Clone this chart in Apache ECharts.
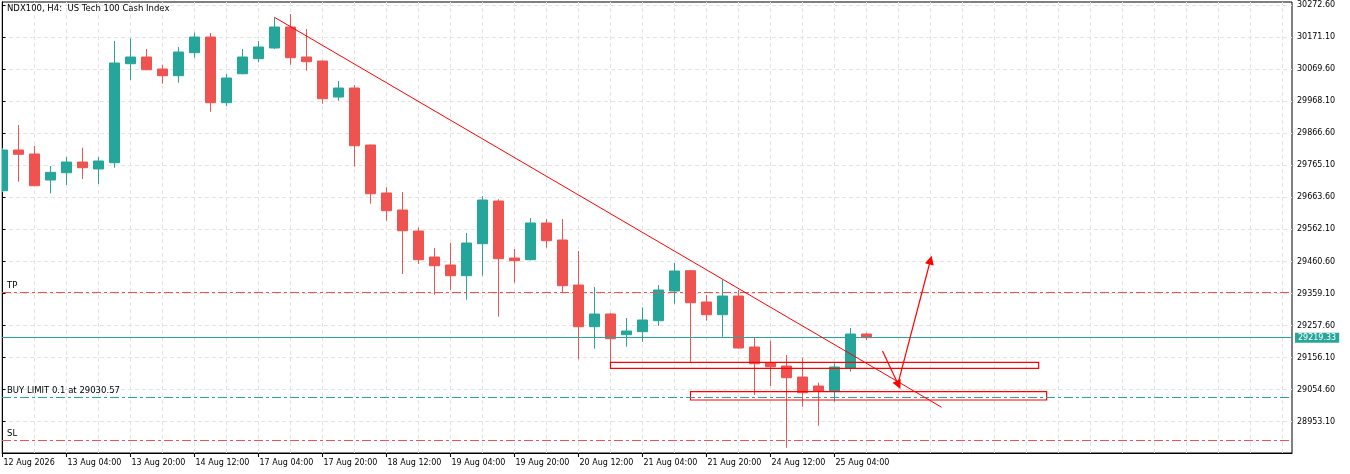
<!DOCTYPE html>
<html><head><meta charset="utf-8">
<script src="https://cdn.jsdelivr.net/npm/echarts@6/dist/echarts.min.js"></script>
<style>html,body{margin:0;padding:0;background:#fff}#c{width:1350px;height:474px}</style>
</head><body><div id="c"></div>
<script>
// ---- data (H4 candles, index 0 = 12 Aug 12:00) ----
const opens = [29684.5, 29813.4, 29800.8, 29718.4, 29741.5, 29775.4, 29753.3, 29773.2, 30086.7, 30107.9,
  30069.9, 30048.7, 30121.5, 30171.2, 29963.2, 30055.0, 30102.5, 30136.4, 30202.9, 30107.9,
  30095.2, 29981.2, 30009.7, 29829.2, 29677.3, 29623.4, 29556.9, 29474.6, 29449.3, 29415.4,
  29516.7, 29651.9, 29471.4, 29466.1, 29582.3, 29528.4, 29385.9, 29253.9, 29294.1, 29228.6,
  29238.1, 29272.9, 29366.9, 29431.2, 29332.1, 29291.9, 29351.1, 29189.6, 29138.9, 29129.4,
  29094.6, 29066.1, 29049.3, 29123.1, 29230.8];
const closes = [29813.4, 29799.8, 29700.4, 29742.8, 29775.4, 29757.4, 29778.6, 30088.9, 30107.9, 30067.7,
  30048.7, 30123.7, 30171.2, 29963.2, 30041.4, 30107.9, 30139.6, 30202.9, 30105.7, 30093.0,
  29975.9, 30009.7, 29827.0, 29675.0, 29621.2, 29557.9, 29466.1, 29447.0, 29415.4, 29518.9,
  29655.1, 29469.2, 29462.9, 29582.3, 29526.2, 29383.7, 29253.9, 29294.1, 29215.9, 29240.3,
  29275.1, 29370.1, 29430.3, 29329.9, 29291.9, 29351.1, 29186.5, 29136.7, 29127.2, 29092.4,
  29044.9, 29049.3, 29126.3, 29230.8, 29219.33];
const lows = [29680.4, 29713.0, 29699.4, 29676.3, 29702.6, 29721.6, 29705.8, 29757.4, 30035.1, 30066.0,
  30023.4, 30026.5, 30105.7, 29934.7, 29952.7, 30053.0, 30091.1, 30133.2, 30083.5, 30064.5,
  29960.0, 29969.5, 29760.5, 29643.4, 29589.5, 29420.8, 29452.4, 29355.2, 29370.1, 29339.4,
  29415.4, 29285.6, 29393.2, 29464.0, 29504.0, 29362.8, 29150.7, 29184.2, 29119.9, 29190.6,
  29206.4, 29256.1, 29326.7, 29139.9, 29272.9, 29222.2, 29184.2, 29037.6, 29066.1, 28870.7,
  29000.6, 28940.4, 29016.4, 29111.4, 29211.8];
const highs = [29819.8, 29892.6, 29826.1, 29762.8, 29791.3, 29820.7, 29791.3, 30158.6, 30167.1, 30133.2,
  30082.6, 30139.6, 30184.9, 30183.9, 30054.1, 30133.2, 30158.6, 30233.6, 30244.1, 30196.6,
  30097.0, 30031.9, 30018.3, 29830.5, 29695.3, 29680.4, 29568.6, 29503.1, 29518.9, 29550.6,
  29667.8, 29657.3, 29499.9, 29598.1, 29594.9, 29594.9, 29493.6, 29379.6, 29297.3, 29281.4,
  29315.3, 29385.9, 29455.6, 29433.4, 29354.3, 29401.8, 29370.1, 29219.1, 29209.6, 29164.3,
  29155.7, 29076.6, 29138.0, 29249.8, 29234.9];

const xTickLabels = ['12 Aug 2026','13 Aug 04:00','13 Aug 20:00','14 Aug 12:00','17 Aug 04:00','17 Aug 20:00',
  '18 Aug 12:00','19 Aug 04:00','19 Aug 20:00','20 Aug 12:00','21 Aug 04:00','21 Aug 20:00','24 Aug 12:00','25 Aug 04:00'];
const xTickStep = 4;
const yTickLabels = ['28953.10','29054.60','29156.10','29257.60','29359.10','29460.60','29562.10',
  '29663.60','29765.10','29866.60','29968.10','30069.60','30171.10','30272.60'];

const lastPrice = 29219.33;
const tpPrice = 29362.2;
const slPrice = 28894.2;
const buyLimitPrice = 29030.57;
const trendLine = [[17, 30233.6], [58.7, 28998.7]];
const arrow1 = [[55, 29177.0], [56, 29069.3]];
const arrow2 = [[56, 29079.8], [58, 29465.1]];
const zone1 = [[38, 29141.2], [64.76, 29122.2]];
const zone2 = [[43, 29048.4], [65.26, 29021.8]];

// ---- build ----
const candles = opens.map((o, i) => [i, o, closes[i], lows[i], highs[i]]);
const xTickIdx = xTickLabels.map((_, i) => i * xTickStep);
const yTickVals = yTickLabels.map(Number);
const xMin = -0.03125, xMax = 80.59375;
const yMin = 28854.0, yMax = 30282.1;
const gridX = [];
for (let v = 0; v <= 80; v += 2) gridX.push({ xAxis: v });
const gridY = yTickVals.map(v => ({ yAxis: v }));

const RED = '#ef5350', GREEN = '#26a69a', LINE_RED = '#ff0000';
const FONT = 'DejaVu Sans';
const dashDot = [9, 3, 3, 3];

const chart = echarts.init(document.getElementById('c'), null, { renderer: 'canvas' });
chart.setOption({
  animation: false,
  backgroundColor: '#fff',
  title: {
    text: 'NDX100, H4:  US Tech 100 Cash Index',
    left: 7, top: 4, padding: 0,
    textStyle: { fontFamily: FONT, fontSize: 8.5, fontWeight: 'normal', color: '#000' }
  },
  graphic: [
    { type: 'rect', left: 0, top: 0, z: 100, silent: true,
      shape: { width: 1.5, height: 474 }, style: { fill: '#fff' } }
  ],
  grid: {
    left: 2, top: 2, right: 58, bottom: 21,
    show: true, borderColor: '#000', borderWidth: 1, backgroundColor: '#fff',
    outerBoundsMode: 'none'
  },
  xAxis: {
    type: 'value', min: xMin, max: xMax,
    axisLine: { show: true, lineStyle: { color: '#000' } },
    axisTick: { show: true, length: 4, customValues: xTickIdx, lineStyle: { color: '#000' } },
    axisLabel: {
      customValues: xTickIdx, align: 'left', margin: 5.5, padding: [0, 0, 0, 1],
      fontFamily: FONT, fontSize: 8, color: '#000',
      formatter: v => { const k = Math.round(v / xTickStep); return xTickLabels[k] || ''; }
    },
    splitLine: { show: false }
  },
  yAxis: {
    type: 'value', position: 'right', min: yMin, max: yMax, scale: true,
    axisLine: { show: true, lineStyle: { color: '#000' } },
    axisTick: { show: true, length: 3, customValues: yTickVals, lineStyle: { color: '#000' } },
    axisLabel: {
      customValues: yTickVals, margin: 5,
      fontFamily: FONT, fontSize: 8, color: '#000',
      formatter: v => Number(v).toFixed(2)
    },
    splitLine: { show: false }
  },
  series: [
    {
      type: 'line', data: [], z: 0, silent: true,
      markLine: {
        z: 0, silent: true, symbol: ['none', 'none'], animation: false,
        label: { show: false },
        lineStyle: { color: '#e4e4e4', type: [4, 3], width: 1 },
        emphasis: { disabled: true },
        data: gridX.concat(gridY)
      }
    },
    {
      type: 'candlestick', z: 2, clip: true,
      encode: { x: 0, y: [1, 2, 3, 4] },
      barWidth: 10,
      itemStyle: { color: GREEN, color0: RED, borderColor: GREEN, borderColor0: RED, borderWidth: 1 },
      data: candles,
      markArea: {
        z: 5, silent: true,
        itemStyle: { color: 'rgba(0,0,0,0)', borderColor: LINE_RED, borderWidth: 1.2 },
        data: [
          [{ coord: zone1[0] }, { coord: zone1[1] }],
          [{ coord: zone2[0] }, { coord: zone2[1] }]
        ]
      },
      markLine: {
        z: 5, silent: true, animation: false, symbol: ['none', 'none'],
        emphasis: { disabled: true },
        label: { show: false },
        data: [
          { yAxis: lastPrice, lineStyle: { color: GREEN, type: 'solid', width: 1 },
            label: { show: true, position: 'end', distance: 3, formatter: lastPrice.toFixed(2),
              backgroundColor: GREEN, color: '#fff', padding: [1, 3, 1, 3], fontFamily: FONT, fontSize: 8 } },
          { yAxis: tpPrice, lineStyle: { color: RED, type: dashDot, width: 1 },
            label: { show: true, position: 'insideStartTop', distance: [5, 2], formatter: 'TP',
              color: '#000', fontFamily: FONT, fontSize: 8.5 } },
          { yAxis: buyLimitPrice, lineStyle: { color: GREEN, type: dashDot, width: 1 },
            label: { show: true, position: 'insideStartTop', distance: [5, 2], formatter: 'BUY LIMIT 0.1 at ' + buyLimitPrice.toFixed(2),
              color: '#000', fontFamily: FONT, fontSize: 8.5 } },
          { yAxis: slPrice, lineStyle: { color: RED, type: dashDot, width: 1 },
            label: { show: true, position: 'insideStartTop', distance: [5, 2], formatter: 'SL',
              color: '#000', fontFamily: FONT, fontSize: 8.5 } },
          [{ coord: trendLine[0], lineStyle: { color: LINE_RED, width: 1, type: 'solid' } }, { coord: trendLine[1] }],
          [{ coord: arrow1[0], symbol: 'none', lineStyle: { color: LINE_RED, width: 1.2, type: 'solid' } },
           { coord: arrow1[1], symbol: 'triangle', symbolSize: 9 }],
          [{ coord: arrow2[0], symbol: 'none', lineStyle: { color: LINE_RED, width: 1.2, type: 'solid' } },
           { coord: arrow2[1], symbol: 'triangle', symbolSize: 9 }]
        ]
      }
    }
  ]
});
</script></body></html>
